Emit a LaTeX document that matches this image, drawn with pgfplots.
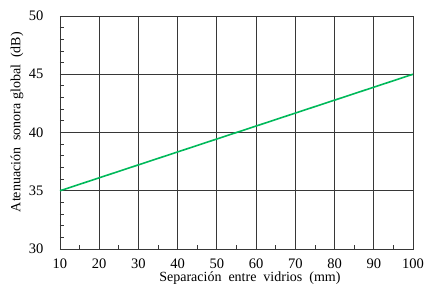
\documentclass[border=0pt]{standalone}
\usepackage{pgfplots}
\pgfplotsset{compat=1.18}
\usepackage{fontspec}
\setmainfont{Liberation Serif}
\definecolor{lgreen}{RGB}{0,185,90}
\definecolor{gridc}{RGB}{55,55,55}
\begin{document}
\begin{tikzpicture}
\path[use as bounding box] (-60pt,-51pt) rectangle (374pt,249pt);
\begin{axis}[
  scale only axis,
  width=353pt, height=233pt,
  xmin=10, xmax=100, ymin=30, ymax=50,
  xtick={10,20,...,100}, ytick={30,35,...,50},
  minor x tick num=1, minor y tick num=4,
  grid=major,
  major grid style={gridc, line width=0.8pt},
  axis line style={gridc, line width=0.8pt},
  tick style={gridc, line width=0.8pt},
  major tick length=0pt,
  minor tick length=4pt,
  tick align=inside,
  xtick pos=bottom, ytick pos=left,
  /pgf/number format/assume math mode=true,
  tick label style={font=\fontsize{14.5}{16}\selectfont},
  xticklabel style={yshift=-6pt},
  yticklabel style={xshift=-13pt},
  label style={font=\fontsize{14}{16}\selectfont},
  xlabel={Separación\ \ entre\ \ vidrios\ \ (mm)},
  ylabel={Atenuación\ \ sonora\ global\ \ (dB)},
  xlabel style={at={(axis description cs:0.538,-0.1245)}, anchor=center},
  ylabel style={at={(axis description cs:-0.1218,0.545)}, anchor=center},
]
\addplot[lgreen, line width=1.6pt] coordinates {(10,35) (100,45)};
\end{axis}
\end{tikzpicture}
\end{document}
